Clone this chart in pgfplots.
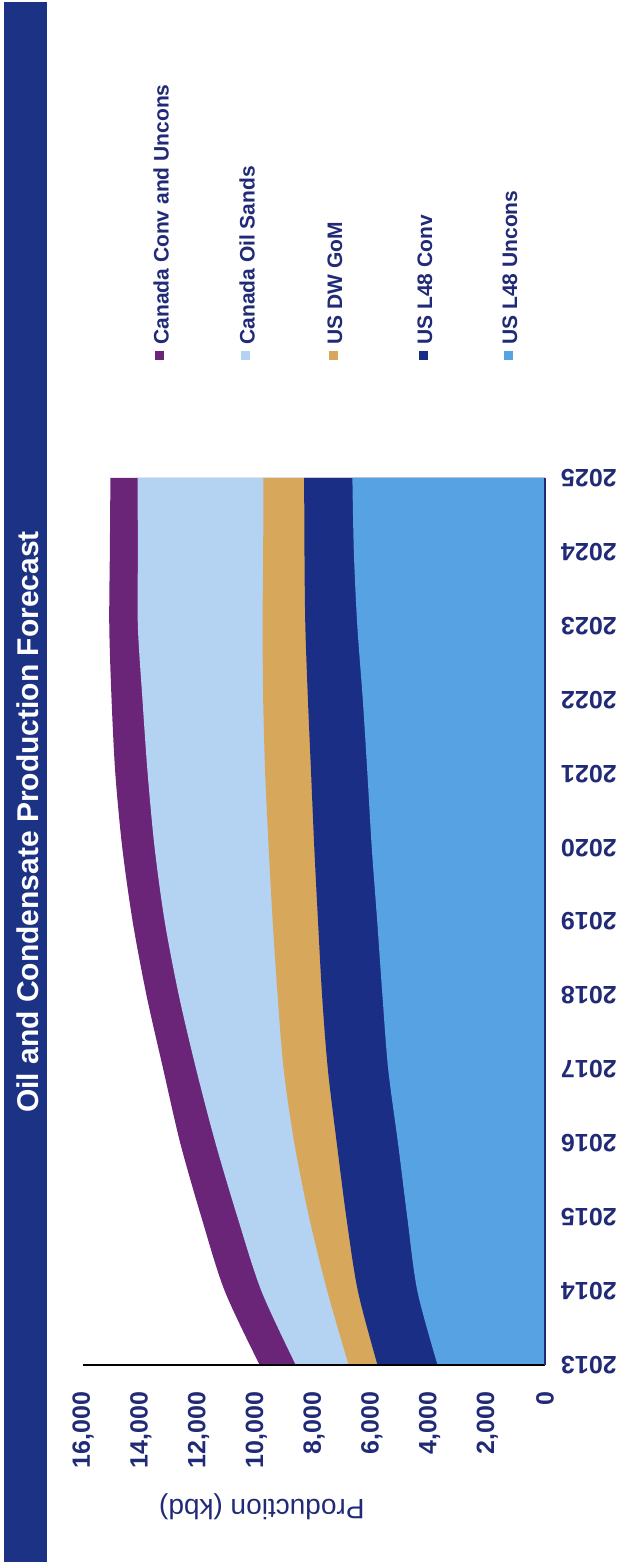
\documentclass[border=0pt]{standalone}
\usepackage{pgfplots}
\pgfplotsset{compat=1.18}
\usepackage{pgfplotstable}
\usepackage{fontspec}
\setmainfont{Liberation Sans}

\definecolor{barnavy}{RGB}{28,50,132}
\definecolor{txtnavy}{RGB}{32,42,118}
\definecolor{baseline}{RGB}{58,66,110}
\definecolor{cpurple}{RGB}{106,37,120}
\definecolor{cpale}{RGB}{180,211,242}
\definecolor{ctan}{RGB}{215,168,92}
\definecolor{cnavy}{RGB}{27,46,133}
\definecolor{clight}{RGB}{86,162,226}

% Oil and condensate production by source (kbd)
\pgfplotstableread{
year uncons conv gom sands cancv
2013 3720 2080 1000 1830 1250
2014 4420 2060 1060 2280 1270
2015 4770 2110 1290 2480 1250
2016 5090 2120 1470 2730 1220
2017 5430 2090 1530 3030 1140
2018 5630 2090 1540 3420 1120
2019 5810 2050 1570 3740 1110
2020 6000 1990 1580 3950 1120
2021 6150 1950 1590 4070 1120
2022 6310 1900 1550 4180 1070
2023 6500 1800 1480 4320 990
2024 6620 1710 1430 4340 970
2025 6670 1670 1410 4360 940
}\production

\begin{document}
\begin{tikzpicture}[x=0.5pt,y=0.5pt]
\useasboundingbox (0,0) rectangle (621,1564);
% title band
\fill[barnavy] (4,2) rectangle (47,1562);
\node[rotate=90, text=white, font=\bfseries\fontsize{15}{18}\selectfont] at (28,742)
  {Oil and Condensate Production Forecast};

\begin{axis}[
  at={(41.5pt,99.5pt)}, anchor=south west,
  scale only axis, width=231pt, height=443.5pt,
  x dir=reverse,
  xmin=0, xmax=16000, ymin=2013, ymax=2025,
  axis x line*=bottom, axis y line*=right,
  axis line style={draw=none},
  major tick length=0pt,
  xtick={0,2000,...,16000},
  ytick={2013,...,2025},
  scaled x ticks=false,
  /pgf/number format/assume math mode=true,
  x tick label style={/pgf/number format/1000 sep={,}, rotate=90, anchor=east,
    font=\bfseries\fontsize{12.5}{15}\selectfont, text=txtnavy},
  xticklabel shift=10pt,
  y tick label style={/pgf/number format/1000 sep={}, rotate=180, anchor=east,
    font=\bfseries\fontsize{12.5}{15}\selectfont, text=txtnavy},
  yticklabel shift=4.5pt,
  xlabel={Production (kbd)},
  xlabel style={at={(axis description cs:0.387,-0.16)}, anchor=center, rotate=180,
    font=\fontsize{14}{16}\selectfont, text=txtnavy},
  clip=false,
]
% cumulative totals, outermost first, each closed back to zero
\addplot[draw=none, fill=cpurple, smooth]
  table[x expr=\thisrow{uncons}+\thisrow{conv}+\thisrow{gom}+\thisrow{sands}+\thisrow{cancv}, y=year] {\production}
  -- (axis cs:0,2025) -- (axis cs:0,2013) -- cycle;
\addplot[draw=none, fill=cpale, smooth]
  table[x expr=\thisrow{uncons}+\thisrow{conv}+\thisrow{gom}+\thisrow{sands}, y=year] {\production}
  -- (axis cs:0,2025) -- (axis cs:0,2013) -- cycle;
\addplot[draw=none, fill=ctan, smooth]
  table[x expr=\thisrow{uncons}+\thisrow{conv}+\thisrow{gom}, y=year] {\production}
  -- (axis cs:0,2025) -- (axis cs:0,2013) -- cycle;
\addplot[draw=none, fill=cnavy, smooth]
  table[x expr=\thisrow{uncons}+\thisrow{conv}, y=year] {\production}
  -- (axis cs:0,2025) -- (axis cs:0,2013) -- cycle;
\addplot[draw=none, fill=clight, smooth]
  table[x=uncons, y=year] {\production}
  -- (axis cs:0,2025) -- (axis cs:0,2013) -- cycle;
% axis lines
\draw[baseline, line width=1.2pt] (axis cs:16000,2013) -- (axis cs:0,2013);
\draw[txtnavy, line width=0.8pt] (axis cs:0,2013) -- (axis cs:0,2025);
\end{axis}

% legend
\foreach \lx/\col/\txt in {161/cpurple/Canada Conv and Uncons,
                           247/cpale/Canada Oil Sands,
                           335/ctan/US DW GoM,
                           425/cnavy/US L48 Conv,
                           510/clight/US L48 Uncons}{
  \fill[\col] (\lx-6,1204) rectangle (\lx+3,1213);
  \node[rotate=90, anchor=west, inner sep=0pt, text=txtnavy,
        font=\bfseries\fontsize{10.5}{12}\selectfont] at (\lx,1219) {\txt};
}
\end{tikzpicture}
\end{document}
